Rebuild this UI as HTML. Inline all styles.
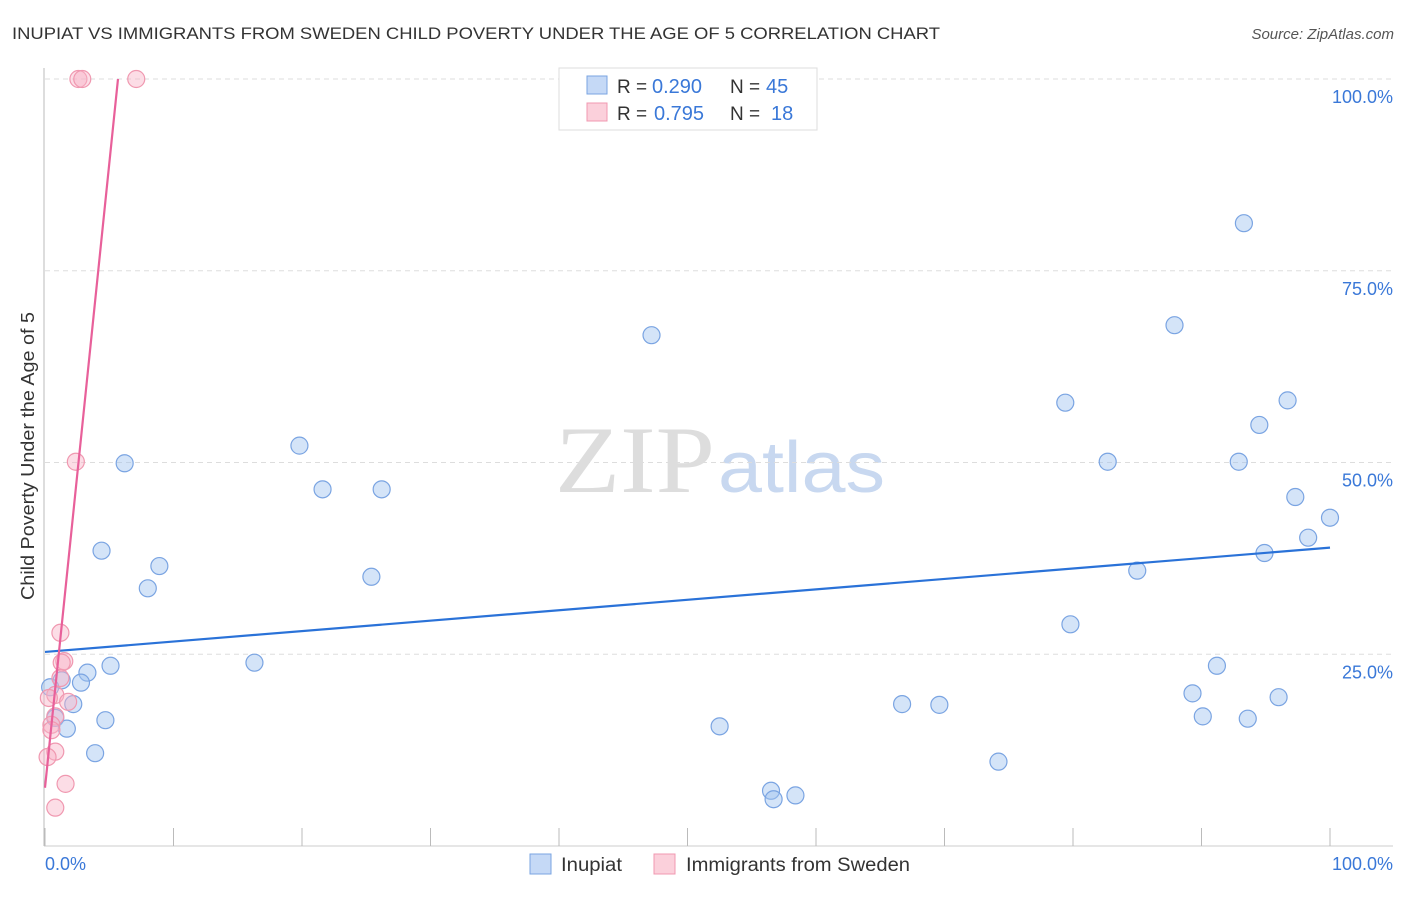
<!DOCTYPE html>
<html><head><meta charset="utf-8"><style>
body{margin:0;background:#fff;font-family:"Liberation Sans",sans-serif}
</style></head><body>
<svg width="1406" height="892" xmlns="http://www.w3.org/2000/svg" font-family="Liberation Sans, sans-serif">
<text x="12" y="39" font-size="17" fill="#333" textLength="928" lengthAdjust="spacingAndGlyphs">INUPIAT VS IMMIGRANTS FROM SWEDEN CHILD POVERTY UNDER THE AGE OF 5 CORRELATION CHART</text>
<text x="1394" y="39" font-size="15" fill="#555" font-style="italic" text-anchor="end">Source: ZipAtlas.com</text>
<text transform="translate(34,456) rotate(-90)" font-size="18" fill="#333" text-anchor="middle" textLength="288" lengthAdjust="spacingAndGlyphs">Child Poverty Under the Age of 5</text>
<text x="555" y="492" font-size="95" fill="#ddd" font-family="Liberation Serif, serif" textLength="160" lengthAdjust="spacingAndGlyphs">ZIP</text>
<text x="718" y="492" font-size="72" fill="#c8d8f0" textLength="167" lengthAdjust="spacingAndGlyphs">atlas</text>
<g id="grid"></g><g id="axes"></g><g id="pts"></g><g id="lines"></g>
<g>
<rect x="559" y="68" width="258" height="62" fill="#fff" stroke="#ddd"/>
<rect x="587" y="76" width="20" height="18" fill="#c5d9f6" stroke="#7aa4e2"/>
<rect x="587" y="103" width="20" height="18" fill="#fbd0db" stroke="#f098b0"/>
<text x="617" y="93" font-size="19" fill="#333">R =</text>
<text x="652" y="93" font-size="20" fill="#3a78d8">0.290</text>
<text x="730" y="93" font-size="19" fill="#333">N =</text>
<text x="766" y="93" font-size="20" fill="#3a78d8">45</text>
<text x="617" y="120" font-size="19" fill="#333">R =</text>
<text x="654" y="120" font-size="20" fill="#3a78d8">0.795</text>
<text x="730" y="120" font-size="19" fill="#333">N =</text>
<text x="771" y="120" font-size="20" fill="#3a78d8">18</text>
</g>
<g>
<rect x="530" y="854" width="21" height="20" fill="#c5d9f6" stroke="#7aa4e2"/>
<text x="561" y="871" font-size="19" fill="#333" textLength="61" lengthAdjust="spacingAndGlyphs">Inupiat</text>
<rect x="654" y="854" width="21" height="20" fill="#fbd0db" stroke="#f098b0"/>
<text x="686" y="871" font-size="19" fill="#333" textLength="224" lengthAdjust="spacingAndGlyphs">Immigrants from Sweden</text>
</g>
<text x="45" y="870" font-size="18" fill="#3a78d8">0.0%</text>
<text x="1393" y="870" font-size="18" fill="#3a78d8" text-anchor="end">100.0%</text>
</svg>
<script>
const yTicks=[100,75,50,25];
const yTickLabels=["100.0%","75.0%","50.0%","25.0%"];
const xTicks=[0,10,20,30,40,50,60,70,80,90,100];
const inupiatX=[5.1,3.3,2.8,1.3,0.4,2.2,0.8,1.7,4.7,3.9,4.4,6.2,8.0,8.9,16.3,19.8,21.6,25.4,26.2,47.2,52.5,56.5,56.7,58.4,66.7,69.6,74.2,79.4,79.8,82.7,85.0,87.9,89.3,90.1,91.2,92.9,93.3,93.6,94.5,94.9,96.0,96.7,97.3,98.3,100];
const inupiatY=[23.5,22.6,21.3,21.6,20.7,18.5,16.7,15.3,16.4,12.1,38.5,49.9,33.6,36.5,23.9,52.2,46.5,35.1,46.5,66.6,15.6,7.2,6.1,6.6,18.5,18.4,11.0,57.8,28.9,50.1,35.9,67.9,19.9,16.9,23.5,50.1,81.2,16.6,54.9,38.2,19.4,58.1,45.5,40.2,42.8];
const swedenX=[2.6,2.9,7.1,2.4,1.2,1.5,1.3,1.2,0.8,1.8,0.8,0.5,0.5,0.8,0.2,1.6,0.8,0.3];
const swedenY=[100,100,100,50.1,27.8,24.1,23.9,21.9,19.7,18.8,16.9,15.8,15.1,12.3,11.6,8.1,5.0,19.3];
const inupiatTrend=[[0,25.3],[100,38.9]];
const swedenTrend=[[0,7.6],[5.68,100]];
const NS="http://www.w3.org/2000/svg";
const sx=v=>45+v*12.85, sy=v=>846-v*7.67;
function mk(tag,attrs,parent){const e=document.createElementNS(NS,tag);for(const k in attrs)e.setAttribute(k,attrs[k]);document.getElementById(parent).appendChild(e);return e;}
yTicks.forEach((t,i)=>{
 const g=mk('line',{x1:45,x2:1393,y1:sy(t),y2:sy(t),stroke:'#ddd','stroke-dasharray':'5,4'},'grid');
 
 
 const l=mk('text',{x:1393,y:sy(t)+24,'font-size':18,fill:'#3a78d8','text-anchor':'end'},'grid');
 l.textContent=yTickLabels[i];
 
 
});
const ax=mk('line',{x1:44,x2:44,y1:68,y2:846,stroke:'#bbb'},'axes');


const bx=mk('line',{x1:44,x2:1393,y1:846,y2:846,stroke:'#ccc'},'axes');


xTicks.forEach(t=>{
 const k=mk('line',{x1:sx(t),x2:sx(t),y1:828,y2:846,stroke:'#bbb'},'axes');
 
 
});
inupiatX.forEach((x,i)=>{
 const c=mk('circle',{cx:sx(x),cy:sy(inupiatY[i]),r:8.5,fill:'rgba(160,195,240,0.45)',stroke:'#7aa4e2','stroke-width':1.2},'pts');
 
 
});
swedenX.forEach((x,i)=>{
 const c=mk('circle',{cx:sx(x),cy:sy(swedenY[i]),r:8.5,fill:'rgba(248,180,200,0.45)',stroke:'#f098b0','stroke-width':1.2},'pts');
 
 
});
const l1=mk('line',{x1:sx(inupiatTrend[0][0]),y1:sy(inupiatTrend[0][1]),x2:sx(inupiatTrend[1][0]),y2:sy(inupiatTrend[1][1]),stroke:'#2a72d8','stroke-width':2.2},'lines');


const l2=mk('line',{x1:sx(swedenTrend[0][0]),y1:sy(swedenTrend[0][1]),x2:sx(swedenTrend[1][0]),y2:sy(swedenTrend[1][1]),stroke:'#e8609a','stroke-width':2.2},'lines');


</script>
</body></html>
